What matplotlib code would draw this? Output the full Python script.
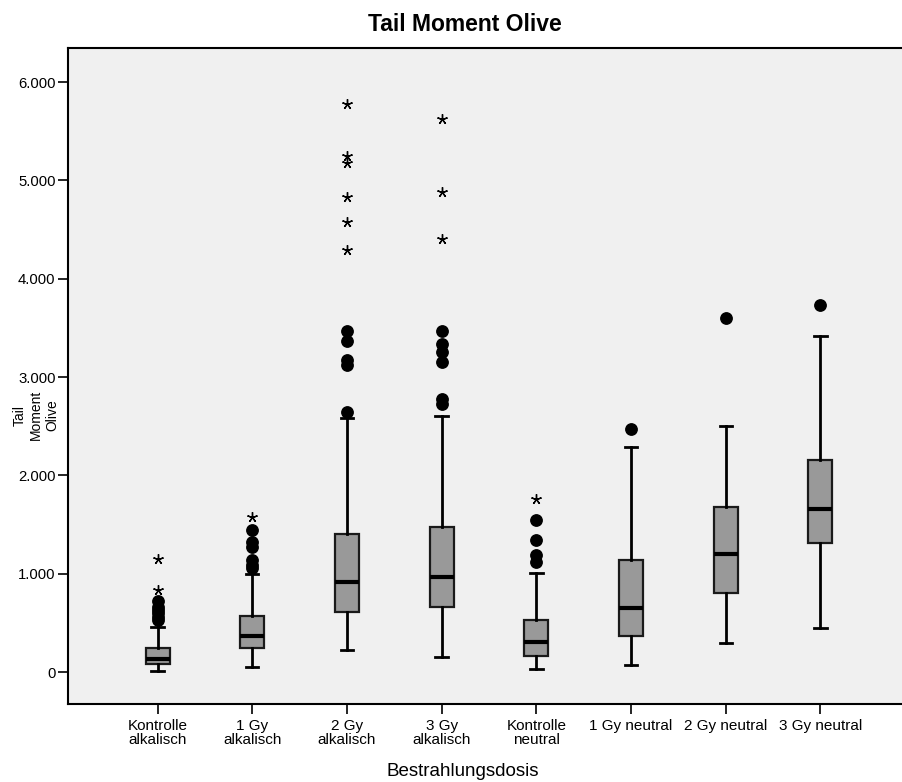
import matplotlib
matplotlib.use("Agg")
import matplotlib.pyplot as plt
from matplotlib.ticker import FuncFormatter

plt.rcParams['font.family'] = ['Liberation Sans', 'DejaVu Sans']

groups = ['Kontrolle\nalkalisch', '1 Gy\nalkalisch', '2 Gy\nalkalisch', '3 Gy\nalkalisch',
          'Kontrolle\nneutral', '1 Gy neutral', '2 Gy neutral', '3 Gy neutral']

whisker_low = [0.013, 0.054, 0.227, 0.149, 0.031, 0.068, 0.295, 0.447]
quartile_1 = [0.078, 0.244, 0.610, 0.661, 0.160, 0.369, 0.800, 1.315]
median = [0.135, 0.366, 0.912, 0.966, 0.308, 0.651, 1.203, 1.658]
quartile_3 = [0.241, 0.566, 1.403, 1.478, 0.526, 1.142, 1.681, 2.159]
whisker_high = [0.461, 1.000, 2.580, 2.603, 1.010, 2.285, 2.505, 3.417]

# moderate outliers (circles)
outliers = [
    [0.53, 0.56, 0.60, 0.63, 0.66, 0.72],
    [1.054, 1.088, 1.139, 1.274, 1.325, 1.444],
    [2.641, 3.122, 3.173, 3.369, 3.468],
    [2.724, 2.775, 3.156, 3.258, 3.333, 3.468],
    [1.119, 1.190, 1.339, 1.546],
    [2.468],
    [3.603],
    [3.735],
]
# extreme values (asterisks)
extremes = [
    [0.834, 1.149],
    [1.573],
    [4.292, 4.573, 4.834, 5.173, 5.248, 5.777],
    [4.400, 4.885, 5.621],
    [1.759],
    [],
    [],
    [],
]

y_ticks = [0, 1, 2, 3, 4, 5, 6]

W, H = 902, 782
fig = plt.figure(figsize=(W / 100, H / 100), dpi=100, facecolor='white')
# axes from x=68px to 910px (right border falls just outside the canvas), y=48px to 704px
ax = fig.add_axes([68 / W, (H - 704) / H, (910 - 68) / W, (704 - 48) / H])
ax.set_facecolor('#f0f0f0')

positions = list(range(1, len(groups) + 1))
stats = []
for i in range(len(groups)):
    stats.append(dict(whislo=whisker_low[i], q1=quartile_1[i], med=median[i],
                      q3=quartile_3[i], whishi=whisker_high[i], fliers=[]))

ax.bxp(stats, positions=positions, widths=0.255, showfliers=False, patch_artist=True,
       boxprops=dict(facecolor='#999999', edgecolor='#1a1a1a', linewidth=1.6),
       medianprops=dict(color='black', linewidth=3.0, solid_capstyle='butt'),
       whiskerprops=dict(color='black', linewidth=2.0),
       capprops=dict(color='black', linewidth=2.0),
       capwidths=0.13)

for p, vals in zip(positions, outliers):
    if vals:
        ax.plot([p] * len(vals), vals, linestyle='none', marker='o', markersize=8.2,
                markerfacecolor='black', markeredgecolor='black', zorder=4)
for p, vals in zip(positions, extremes):
    if vals:
        ax.plot([p] * len(vals), vals, linestyle='none', marker=(5, 2, 0), markersize=7.5,
                markeredgewidth=1.0, color='black', zorder=4)

ax.set_xlim(0.054, 8.946)
ax.set_ylim(-0.325, 6.346)
ax.set_xticks(positions)
ax.set_xticklabels(groups, fontsize=11, linespacing=1.0)
ax.set_yticks(y_ticks)
ax.yaxis.set_major_formatter(FuncFormatter(lambda v, _: '0' if v == 0 else f'{v:.3f}'))
ax.tick_params(axis='y', length=7.5, width=1.2, labelsize=10.7, pad=1.5)
ax.tick_params(axis='x', length=7.5, width=1.2, pad=3)

for side in ['left', 'bottom', 'top']:
    ax.spines[side].set_linewidth(1.5)
    ax.spines[side].set_color('black')
ax.spines['right'].set_visible(False)

fig.text(464.5 / W, 1 - 30.7 / H, 'Tail Moment Olive', ha='center', va='baseline',
         fontsize=16.5, fontweight='bold')
fig.text(463 / W, 1 - 772 / H, 'Bestrahlungsdosis', ha='center', va='center', fontsize=13.5)
fig.text(36 / W, 1 - 415 / H, 'Tail\nMoment\nOlive', ha='center', va='center',
         rotation=90, fontsize=10, linespacing=1.2, multialignment='center')

fig.savefig('out.png', dpi=100, facecolor='white')
